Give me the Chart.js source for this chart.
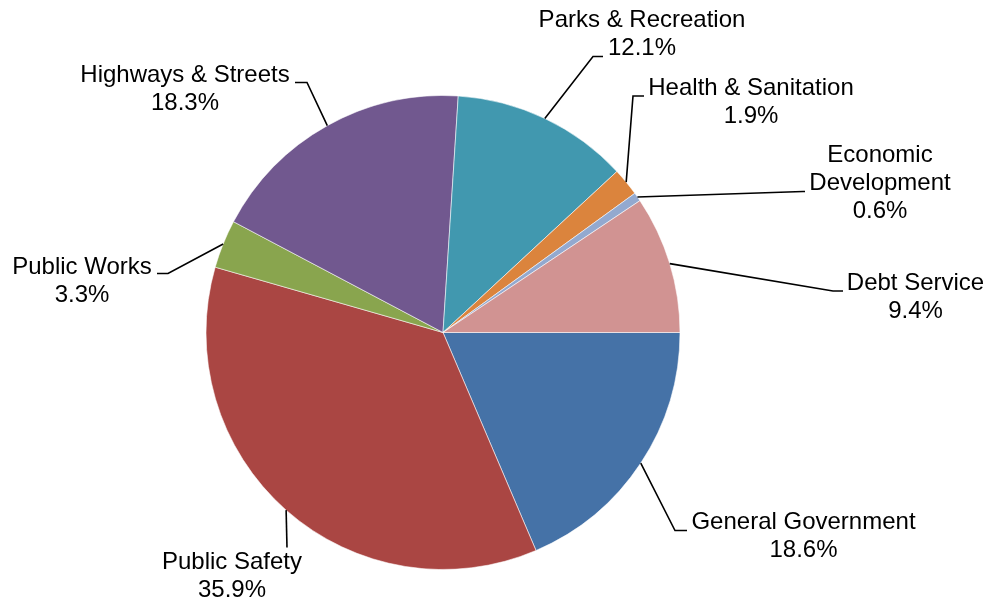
<!DOCTYPE html>
<html>
<head>
<meta charset="utf-8">
<script src="https://cdn.jsdelivr.net/npm/chart.js@4.4.0/dist/chart.umd.min.js"></script>
<style>
  html, body { margin: 0; padding: 0; background: #fff; }
  #wrap { width: 992px; height: 603px; }
</style>
</head>
<body>
<div id="wrap"><canvas id="budgetPie"></canvas></div>
<script>
// data (clockwise from 3 o'clock)
var categories = ['General Government', 'Public Safety', 'Public Works', 'Highways & Streets',
                  'Parks & Recreation', 'Health & Sanitation', 'Economic Development', 'Debt Service'];
var shares = [18.6, 35.9, 3.3, 18.3, 12.1, 1.9, 0.6, 9.4];
var sliceColors = ['#4572A7', '#AA4643', '#89A54E', '#71588F', '#4198AF', '#DB843D', '#93A9CF', '#D19392'];

// label layout, offsets from the pie centre:
// text centre x, first line y, elbow of leader line, end x of the short horizontal piece
var labelLayout = [
    {tx: 360.5, ty: 190, ex: 232, ey: 198, hx: 244},
    {tx: -211, ty: 230, ex: -156, ey: 215, hx: -156},
    {tx: -361, ty: -65, ex: -275, ey: -59, hx: -286},
    {tx: -258, ty: -257, ex: -136, ey: -250, hx: -148},
    {tx: 199, ty: -312, ex: 150, ey: -276, hx: 160},
    {tx: 308, ty: -244.5, ex: 190, ey: -236.5, hx: 201},
    {tx: 437, ty: -177, ex: 360, ey: -141, hx: 362, wrap: true},
    {tx: 472.5, ty: -49, ex: 390, ey: -41.5, hx: 400}
];

/**
 * draws the category/percent labels with their leader lines
 */
var leaderLabels = {
    id: 'leaderLabels',
    afterDatasetsDraw: function(chart){
        let ctx = chart.ctx;
        let arcs = chart.getDatasetMeta(0).data;
        ctx.save();
        ctx.font = '24px "Liberation Sans", Arial, sans-serif';
        ctx.fillStyle = '#000';
        ctx.strokeStyle = '#000';
        ctx.lineWidth = 1.6;
        ctx.textAlign = 'center';
        ctx.textBaseline = 'middle';
        for (let i = 0; i < arcs.length; i++){
            let arc = arcs[i];
            let pos = labelLayout[i];
            let mid = (arc.startAngle + arc.endAngle) / 2;
            let sx = arc.x + arc.outerRadius * Math.cos(mid);
            let sy = arc.y + arc.outerRadius * Math.sin(mid);
            ctx.beginPath();
            ctx.moveTo(sx, sy);
            ctx.lineTo(arc.x + pos.ex, arc.y + pos.ey);
            ctx.lineTo(arc.x + pos.hx, arc.y + pos.ey);
            ctx.stroke();

            let lines = pos.wrap ? categories[i].split(' ') : [categories[i]];
            lines.push(shares[i].toFixed(1) + '%');
            for (let j = 0; j < lines.length; j++){
                ctx.fillText(lines[j], arc.x + pos.tx, arc.y + pos.ty + j * 28);
            }
        }
        ctx.restore();
    }
};

function draw(){
    let plotArea = document.getElementById('budgetPie');
    let chartObject = {};
    chartObject['type'] = 'pie';
    chartObject['data'] = {
        labels: categories,
        datasets: [{
            data: shares,
            backgroundColor: sliceColors,
            borderColor: 'rgba(255,255,255,0.55)',
            borderWidth: 1
        }]
    };
    chartObject['options'] = {
        responsive: true,
        maintainAspectRatio: false,
        animation: false,
        rotation: 90,
        layout: {padding: {top: 95, bottom: 33, left: 100, right: 206}},
        plugins: {legend: {display: false}, tooltip: {enabled: false}}
    };
    chartObject['plugins'] = [leaderLabels];
    new Chart(plotArea, chartObject);
}

draw();
</script>
</body>
</html>
